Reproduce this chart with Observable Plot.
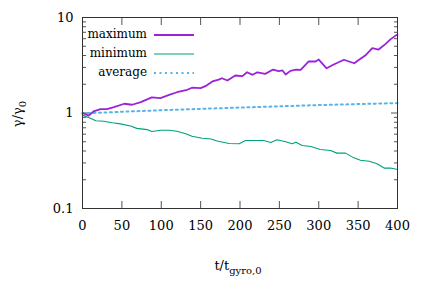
<!DOCTYPE html>
<html>
<head>
<meta charset="utf-8">
<script src="https://cdn.jsdelivr.net/npm/d3@7"></script>
<script src="https://cdn.jsdelivr.net/npm/@observablehq/plot@0.6"></script>
<style>
  html, body { margin: 0; padding: 0; background: #fff; }
  #wrap { position: relative; width: 436px; height: 305px; font-family: "DejaVu Serif", "Liberation Serif", serif; }
  .leg { position: absolute; font-family: "DejaVu Serif", "Liberation Serif", serif; font-size: 12px; color: #000; text-align: right; width: 90px; line-height: 14px; }
  svg text { font-family: "DejaVu Serif", "Liberation Serif", serif; }
</style>
</head>
<body>
<div id="wrap"></div>
<script>
// ---- data ----
const maxT = [0,8,14,23,31,40,53,63,74,88,99,110,120,133,139,150,156,165,173,177,184,194,203,209,216,222,232,242,249,254,258,264,271,277,287,296,300,310,319,332,345,353,359,368,376,385,391,398,400];
const maxV = [1.0,0.94,1.04,1.10,1.10,1.15,1.25,1.22,1.30,1.46,1.43,1.55,1.65,1.75,1.84,1.82,1.91,2.14,2.24,2.31,2.19,2.47,2.43,2.67,2.51,2.67,2.57,2.85,2.74,2.79,2.53,2.76,2.85,2.83,3.46,3.46,3.63,2.94,3.22,3.61,3.32,3.70,4.0,4.77,4.62,5.3,5.9,6.5,6.6];
const minT = [0,10,17,27,38,48,61,69,82,88,99,110,120,131,139,152,163,171,186,199,207,222,230,239,247,258,266,271,279,290,302,315,323,334,343,353,364,374,383,391,400];
const minV = [0.95,0.88,0.83,0.82,0.79,0.77,0.73,0.69,0.67,0.64,0.66,0.66,0.645,0.605,0.57,0.545,0.535,0.51,0.48,0.476,0.515,0.515,0.515,0.49,0.525,0.50,0.476,0.495,0.457,0.446,0.415,0.405,0.38,0.38,0.345,0.32,0.313,0.294,0.265,0.265,0.256];
const avgT = [0,50,100,150,200,250,300,350,400];
const avgV = [0.99,1.03,1.07,1.105,1.14,1.175,1.21,1.24,1.27];
const xTicks = [0,50,100,150,200,250,300,350,400];
const yMajor = [0.1,1,10];
const yMinor = [0.2,0.3,0.4,0.5,0.6,0.7,0.8,0.9,2,3,4,5,6,7,8,9];
const seriesNames = ["maximum","minimum","average"];
const colors = ["#9b22d9","#00a07a","#56b4e9"];

const maxData = maxT.map((t,i)=>({t, v:maxV[i]}));
const minData = minT.map((t,i)=>({t, v:minV[i]}));
const avgData = avgT.map((t,i)=>({t, v:avgV[i]}));

const serif = "DejaVu Serif";
const tickStroke = "#555";
const plot = Plot.plot({
  width: 436, height: 305,
  marginLeft: 82, marginRight: 39, marginTop: 17, marginBottom: 97,
  style: {fontFamily: serif, fontSize: "13px", color: "#000", background: "#fff"},
  x: {domain: [0,400]},
  y: {type: "log", domain: [0.1,10]},
  marks: [
    Plot.axisX(xTicks, {anchor: "bottom", tickSize: -7, text: null, label: null, stroke: tickStroke}),
    Plot.axisX(xTicks, {anchor: "top", tickSize: -7, text: null, label: null, stroke: tickStroke}),
    Plot.axisX(xTicks, {anchor: "bottom", tickSize: 0, tickPadding: 12, label: null, fontSize: 13, fontFamily: serif, tickFormat: d=>String(d)}),
    Plot.axisY(yMajor, {anchor: "left", tickSize: -7, text: null, label: null, stroke: tickStroke}),
    Plot.axisY(yMajor, {anchor: "right", tickSize: -7, text: null, label: null, stroke: tickStroke}),
    Plot.axisY(yMinor, {anchor: "left", tickSize: -4, text: null, label: null, stroke: tickStroke}),
    Plot.axisY(yMinor, {anchor: "right", tickSize: -4, text: null, label: null, stroke: tickStroke}),
    Plot.axisY(yMajor, {anchor: "left", tickSize: 0, tickPadding: 9, label: null, fontSize: 13, fontFamily: serif, tickFormat: d=>String(d)}),
    Plot.lineY(avgData, {x: "t", y: "v", stroke: colors[2], strokeWidth: 2, strokeDasharray: "2,3.5"}),
    Plot.lineY(minData, {x: "t", y: "v", stroke: colors[1], strokeWidth: 1.1}),
    Plot.lineY(maxData, {x: "t", y: "v", stroke: colors[0], strokeWidth: 1.8}),
    Plot.frame({stroke: "#333", strokeWidth: 1})
  ]
});

const wrap = document.getElementById("wrap");
wrap.appendChild(plot);

// axis titles with subscripts
const svg = d3.select(plot);
const xl = svg.append("text").attr("x", 238).attr("y", 270).attr("text-anchor", "middle")
  .attr("font-family", serif).attr("font-size", 13).attr("fill", "#000");
xl.append("tspan").text("t/t");
xl.append("tspan").attr("font-size", 10).attr("dy", 4).text("gyro,0");
const yl = svg.append("text").attr("transform", "translate(22,114) rotate(-90)").attr("text-anchor", "middle")
  .attr("font-family", serif).attr("font-size", 13).attr("fill", "#000");
yl.append("tspan").text("γ/γ");
yl.append("tspan").attr("font-size", 10).attr("dy", 4).text("0");

// legend
const legY = [35, 54, 73];
const dash = [null, null, "2,3.5"];
const widths = [1.8, 1.1, 2];
seriesNames.forEach((name, i) => {
  const d = document.createElement("div");
  d.className = "leg";
  d.style.left = (147 - 90) + "px";
  d.style.top = (legY[i] - 8) + "px";
  d.textContent = name;
  wrap.appendChild(d);
  svg.append("line").attr("x1", 154).attr("x2", 194).attr("y1", legY[i]).attr("y2", legY[i])
    .attr("stroke", colors[i]).attr("stroke-width", widths[i]).attr("stroke-dasharray", dash[i]);
});
</script>
</body>
</html>
